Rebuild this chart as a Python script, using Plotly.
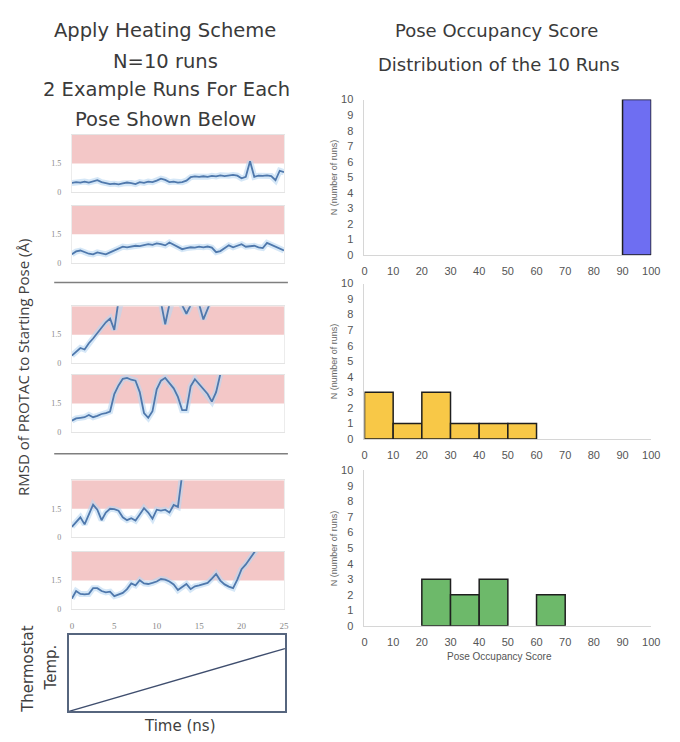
import plotly.graph_objects as go

# page body has an 8px default margin: figure offset by 8px, reaching the window's bottom edge
OFF = 8
FW, FH = 664, 734
def fx(p): return (p - OFF) / FW
def fy(p): return 1 - (p - OFF) / FH

# ---------------- data ----------------
time_ns = [i * 0.5 for i in range(51)]

pose1_run1 = [0.48, 0.52, 0.50, 0.55, 0.50, 0.55, 0.62, 0.52, 0.45, 0.42, 0.44, 0.40, 0.45,
              0.50, 0.47, 0.42, 0.52, 0.48, 0.55, 0.52, 0.60, 0.70, 0.64, 0.52, 0.55, 0.50,
              0.52, 0.60, 0.78, 0.82, 0.80, 0.83, 0.80, 0.85, 0.82, 0.88, 0.84, 0.86, 0.90,
              0.86, 0.72, 0.80, 1.62, 0.80, 0.86, 0.85, 0.88, 0.84, 0.62, 1.12, 1.05]
pose1_run2 = [0.45, 0.60, 0.65, 0.55, 0.48, 0.45, 0.55, 0.50, 0.45, 0.55, 0.65, 0.75, 0.85,
              0.82, 0.86, 0.90, 0.88, 0.95, 0.98, 0.95, 1.02, 0.98, 0.92, 1.07, 0.95, 0.85,
              0.72, 0.78, 0.82, 0.80, 0.85, 0.82, 0.86, 0.80, 0.56, 0.62, 0.75, 0.92, 0.82,
              0.88, 0.98, 0.85, 0.88, 0.90, 0.82, 0.78, 1.05, 0.95, 0.85, 0.72, 0.65]
pose2_run1 = [0.40, 0.62, 0.80, 0.72, 1.05, 1.30, 1.60, 1.90, 2.15, 2.35, 1.75, 3.30, 3.60,
              3.70, 3.80, 3.70, 3.80, 3.70, 3.60, 3.50, 3.40, 3.20, 2.05, 3.10, 3.50, 3.40,
              3.05, 2.60, 3.05, 3.30, 3.10, 2.30, 3.00, 3.40]
pose2_run2 = [0.60, 0.72, 0.75, 0.78, 0.90, 0.78, 0.85, 0.95, 1.00, 1.08, 2.00, 2.45, 2.80,
              2.85, 2.75, 2.70, 2.10, 1.00, 0.75, 1.10, 2.25, 2.70, 2.85, 2.60, 2.30, 1.85,
              1.15, 1.15, 2.40, 2.78, 2.50, 2.25, 2.00, 1.60, 2.10, 3.05]
pose3_run1 = [0.55, 0.80, 1.05, 0.68, 1.20, 1.72, 1.45, 0.90, 1.30, 1.50, 1.48, 1.40, 1.05,
              0.90, 1.00, 0.88, 1.20, 1.53, 1.30, 0.98, 1.45, 1.40, 1.45, 1.30, 1.70, 1.60,
              3.30]
pose3_run2 = [0.55, 0.95, 0.80, 0.78, 0.80, 1.10, 1.10, 0.95, 0.88, 0.92, 0.68, 0.75, 0.85,
              1.05, 1.35, 1.25, 1.52, 1.35, 1.32, 1.38, 1.45, 1.58, 1.55, 1.45, 1.30, 1.00,
              1.15, 1.32, 1.05, 1.20, 1.25, 1.30, 1.38, 1.60, 1.85, 1.50, 1.30, 1.18, 1.10,
              1.55, 2.10, 2.35, 2.65, 2.95, 3.30]

therm_time = [0, 25]
therm_temp = [0, 1]

score_bins = [5, 15, 25, 35, 45, 55, 65, 75, 85, 95]
pose1_counts = [0, 0, 0, 0, 0, 0, 0, 0, 0, 10]
pose2_counts = [3, 1, 3, 1, 1, 1, 0, 0, 0, 0]
pose3_counts = [0, 0, 3, 2, 3, 0, 2, 0, 0, 0]

x_ticks_time = [0, 5, 10, 15, 20, 25]
x_ticks_score = [0, 10, 20, 30, 40, 50, 60, 70, 80, 90, 100]
y_ticks_count = list(range(11))

# ---------------- figure ----------------
fig = go.Figure()
layout = dict(width=FW, height=FH, margin=dict(l=0, r=0, t=0, b=0),
              paper_bgcolor="white", plot_bgcolor="white", showlegend=False)
shapes = []
annotations = []

runs = [pose1_run1, pose1_run2, pose2_run1, pose2_run2, pose3_run1, pose3_run2]
bottoms = [189, 261, 363, 433, 540, 613]
band_color = "#F3C7C7"
for i, (vals, b) in enumerate(zip(runs, bottoms), start=1):
    xa = "x" if i == 1 else f"x{i}"
    ya = "y" if i == 1 else f"y{i}"
    t = time_ns[:len(vals)]
    fig.add_trace(go.Scatter(x=t, y=vals, mode="lines", xaxis=xa, yaxis=ya,
                             line=dict(color="rgba(185,215,242,0.6)", width=6),
                             hoverinfo="skip"))
    fig.add_trace(go.Scatter(x=t, y=vals, mode="lines", xaxis=xa, yaxis=ya,
                             line=dict(color="#4F78AC", width=1.8)))
    last = (i == 6)
    layout["xaxis" if i == 1 else f"xaxis{i}"] = dict(
        domain=[fx(70), fx(286)], range=[0, 25], anchor=ya,
        showgrid=False, zeroline=False, showline=True, linecolor="#e4e4e4", mirror=True,
        showticklabels=last, tickvals=x_ticks_time, ticks="", ticklabelstandoff=8,
        tickfont=dict(size=9, color="#8a8a8a", family="Liberation Serif"))
    layout["yaxis" if i == 1 else f"yaxis{i}"] = dict(
        domain=[fy(b), fy(b - 58)], range=[0, 3], anchor=xa,
        showgrid=False, zeroline=False, showline=True, linecolor="#ececec", mirror=True,
        tickvals=[0, 1.5], ticktext=["0", "1.5"], ticks="", ticklabelstandoff=8,
        tickfont=dict(size=8, color="#8a8a8a", family="Liberation Serif"))
    shapes.append(dict(type="rect", xref=xa, yref=ya, x0=0, x1=25, y0=1.5, y1=3,
                       fillcolor=band_color, line=dict(width=0), layer="below"))

# thermostat panel
fig.add_trace(go.Scatter(x=therm_time, y=therm_temp, mode="lines", xaxis="x7", yaxis="y7",
                         line=dict(color="#3F4E6E", width=1.3)))
layout["xaxis7"] = dict(domain=[fx(67), fx(287)], range=[0, 25], anchor="y7",
                        showgrid=False, zeroline=False, showline=True, linecolor="#56657E",
                        linewidth=1.5, mirror=True, showticklabels=False, ticks="")
layout["yaxis7"] = dict(domain=[fy(717), fy(639)], range=[0, 1.22], anchor="x7",
                        showgrid=False, zeroline=False, showline=True, linecolor="#56657E",
                        linewidth=1.5, mirror=True, showticklabels=False, ticks="")

# histograms
hist_counts = [pose1_counts, pose2_counts, pose3_counts]
hist_colors = ["#6E6EF2", "#F8C847", "#6DB96A"]
hist_bottoms = [253, 440, 630]
for k, (cnts, col, b) in enumerate(zip(hist_counts, hist_colors, hist_bottoms)):
    n = 8 + k
    xa, ya = f"x{n}", f"y{n}"
    xs = [s for s, c in zip(score_bins, cnts) if c > 0]
    ys = [c for c in cnts if c > 0]
    fig.add_trace(go.Bar(x=xs, y=ys, width=10, xaxis=xa, yaxis=ya,
                         marker=dict(color=col, line=dict(color="#1f1f1f", width=1.5))))
    layout[f"xaxis{n}"] = dict(
        domain=[fx(368), fx(660)], range=[0, 100], anchor=ya,
        showgrid=False, zeroline=False, showline=True, linecolor="#d6d6d6",
        tickvals=x_ticks_score, ticks="", ticklabelstandoff=6,
        tickfont=dict(size=11, color="#555555", family="Liberation Sans"))
    layout[f"yaxis{n}"] = dict(
        domain=[fy(b), fy(b - 158)], range=[0, 10], anchor=xa,
        showgrid=False, zeroline=False, showline=True, linecolor="#d6d6d6",
        tickvals=y_ticks_count, ticks="", ticklabelstandoff=8,
        tickfont=dict(size=11, color="#555555", family="Liberation Sans"))
    annotations.append(dict(text="N (number of runs)", xref="paper", yref="paper",
                            x=fx(337), y=fy(b - 79), textangle=-90, showarrow=False,
                            xanchor="center", yanchor="middle",
                            font=dict(size=9, color="#666666", family="Liberation Sans")))

# separators between poses
for yy in [281, 455]:
    shapes.append(dict(type="line", xref="paper", yref="paper",
                       x0=fx(52), x1=fx(290), y0=fy(yy), y1=fy(yy),
                       line=dict(color="#7f7f7f", width=1.5)))

left_title_font = dict(size=19.5, color="#3a3a3a", family="DejaVu Sans")
right_title_font = dict(size=18, color="#3a3a3a", family="DejaVu Sans")
for txt, cx, cy, f in [("Apply Heating Scheme", 165, 25, left_title_font),
                       ("N=10 runs", 165, 56, left_title_font),
                       ("2 Example Runs For Each", 166, 85, left_title_font),
                       ("Pose Shown Below", 165, 115, left_title_font),
                       ("Pose Occupancy Score", 502, 25, right_title_font),
                       ("Distribution of the 10 Runs", 505, 59, right_title_font)]:
    annotations.append(dict(text=txt, xref="paper", yref="paper", x=fx(cx), y=fy(cy),
                            showarrow=False, xanchor="center", yanchor="middle", font=f))

label_font = dict(size=15, color="#404040", family="Open Sans")
annotations.append(dict(text="RMSD of PROTAC to Starting Pose (Å)", xref="paper", yref="paper",
                        x=fx(20), y=fy(367), textangle=-90, showarrow=False,
                        xanchor="center", yanchor="middle", font=label_font))
side_font = dict(size=15, color="#404040", family="DejaVu Sans")
annotations.append(dict(text="Thermostat", xref="paper", yref="paper",
                        x=fx(25), y=fy(674), textangle=-90, showarrow=False,
                        xanchor="center", yanchor="middle", font=side_font))
annotations.append(dict(text="Temp.", xref="paper", yref="paper",
                        x=fx(49), y=fy(672), textangle=-90, showarrow=False,
                        xanchor="center", yanchor="middle", font=side_font))
annotations.append(dict(text="Time (ns)", xref="paper", yref="paper",
                        x=fx(180), y=fy(732), showarrow=False,
                        xanchor="center", yanchor="middle", font=side_font))
annotations.append(dict(text="Pose Occupancy Score", xref="paper", yref="paper",
                        x=fx(505), y=fy(661), showarrow=False,
                        xanchor="center", yanchor="middle",
                        font=dict(size=10, color="#555555", family="Liberation Sans")))

layout["shapes"] = shapes
layout["annotations"] = annotations
fig.update_layout(**layout)
fig.write_html("out.html")
